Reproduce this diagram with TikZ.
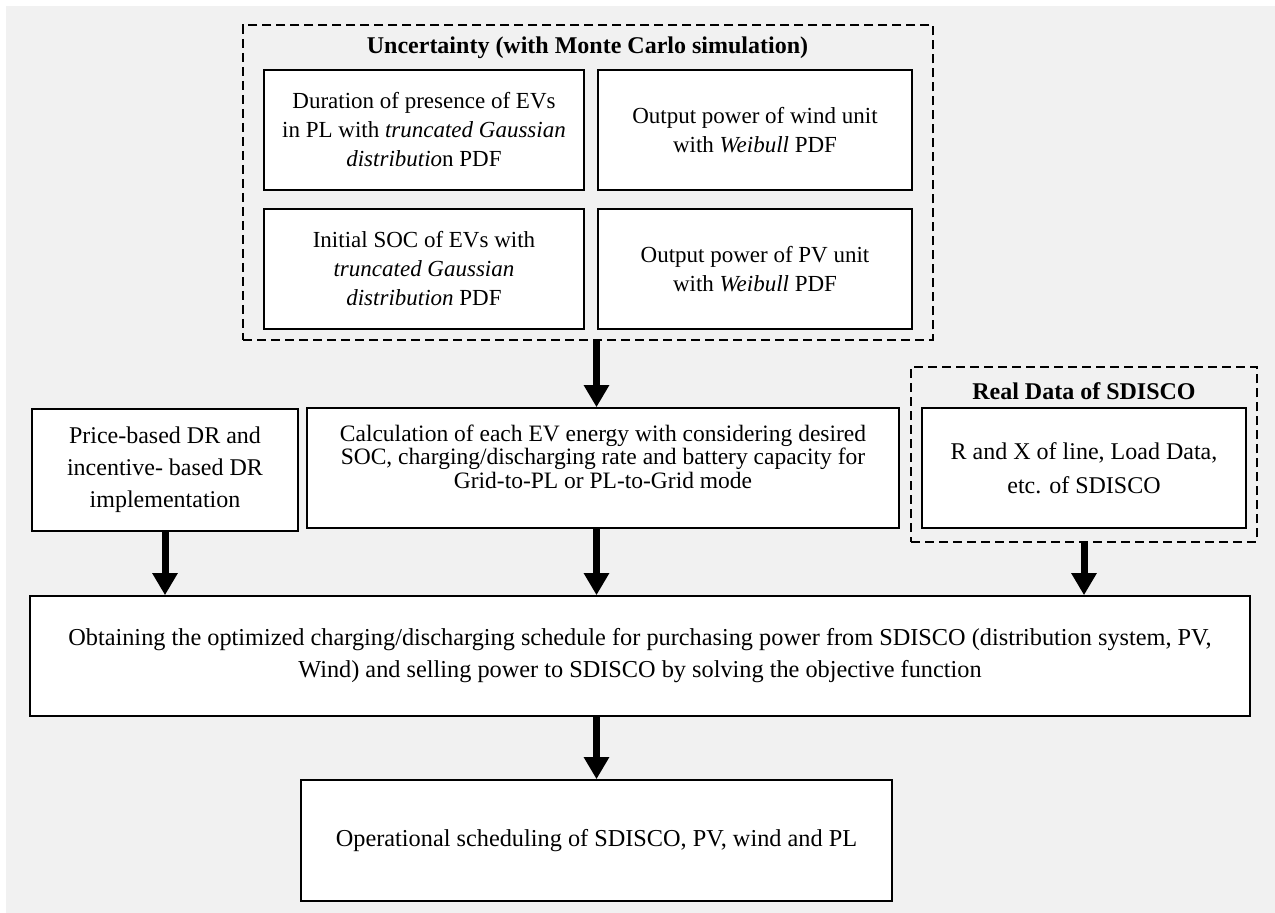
\documentclass[tikz,border=0pt]{standalone}
\usepackage{fontspec}
\setmainfont{Liberation Serif}
\usetikzlibrary{positioning, fit, arrows.meta}
\definecolor{bggray}{HTML}{F1F1F1}
\tikzset{
	block/.style={rectangle, draw, fill=white, line width=1.6pt, minimum height=120pt, align=center, inner sep=4pt, font=\fontsize{24}{32}\selectfont},
	dashbox/.style={rectangle, draw, dash pattern=on 9pt off 5pt, line width=1.6pt},
	head/.style={align=center, inner sep=2pt, font=\fontsize{24}{28}\selectfont\bfseries},
	flow/.style={line width=7pt, -{Triangle[length=22pt, width=24pt]}},
}

\begin{document}
\begin{tikzpicture}[x=1pt, y=1pt, node distance=139pt]
		\fill[bggray] (6,-6) rectangle (1275,-913);
		\useasboundingbox (0,0) rectangle (1275,-913);
		
		\node[head] (unctitle) at (587.5,-48) {Uncertainty (with Monte Carlo simulation)};
		
		\node[block, minimum width=320pt, font=\fontsize{23}{29}\selectfont, below of=unctitle, xshift=-163.5pt, yshift=57pt] (dur) {Duration of presence of EVs\\in PL with \textit{truncated Gaussian}\\\textit{distributio}n PDF};
		\node[block, minimum width=314pt, font=\fontsize{23}{29}\selectfont, line width=2.4pt, right of=dur, xshift=192pt] (wind) {Output power of wind unit\\with \textit{Weibull} PDF};
		\node[block, minimum width=320pt, font=\fontsize{23}{29}\selectfont, below of=dur] (soc) {Initial SOC of EVs with\\\textit{truncated Gaussian}\\\textit{distribution} PDF};
		\node[block, minimum width=314pt, font=\fontsize{23}{29}\selectfont, below of=wind] (pv) {Output power of PV unit\\with \textit{Weibull} PDF};
		
		\node[dashbox, fit=(unctitle)(dur)(pv), inner xsep=20pt, inner ysep=10pt] (unc) {};
		
		\node[block, minimum width=592pt, font=\fontsize{23.5}{23.5}\selectfont, below of=soc, xshift=179pt, yshift=-60pt] (calc) {Calculation of each EV energy with considering desired\\SOC, charging/discharging rate and battery capacity for\\Grid-to-PL or PL-to-Grid mode\\\mbox{}};
		\node[block, minimum width=266pt, minimum height=122pt, left of=calc, xshift=-299pt, yshift=-2pt] (price) {Price-based DR and\\incentive- based DR\\implementation};
		\node[block, minimum width=324pt, font=\fontsize{24}{34}\selectfont, right of=calc, xshift=342pt] (rdata) {R and X of line, Load Data,\\etc. of SDISCO};
		\node[head, above of=rdata, yshift=-62pt] (rtitle) {Real Data of SDISCO};
		
		\node[dashbox, fit=(rtitle)(rdata), inner xsep=10pt, inner ysep=13pt] (rdash) {};
		
		\node[block, minimum width=1220pt, font=\fontsize{24.3}{32}\selectfont, below of=calc, xshift=37pt, yshift=-49pt] (main) {Obtaining the optimized charging/discharging schedule for purchasing power from SDISCO (distribution system, PV,\\Wind) and selling power to SDISCO by solving the objective function};
		
		\node[block, minimum width=591pt, minimum height=121pt, font=\fontsize{24.3}{32}\selectfont, below of=main, xshift=-43.5pt, yshift=-45.5pt] (out) {Operational scheduling of SDISCO, PV, wind and PL};
		
		\draw[flow] (unc.south -| out.north) -- (calc.north -| out.north);
		\draw[flow] (price.south) -- (price.south |- main.north);
		\draw[flow] (calc.south -| out.north) -- (main.north -| out.north);
		\draw[flow] (rdash.south) -- (rdash.south |- main.north);
		\draw[flow] (main.south -| out.north) -- (out.north);
		
	\end{tikzpicture}
\end{document}
